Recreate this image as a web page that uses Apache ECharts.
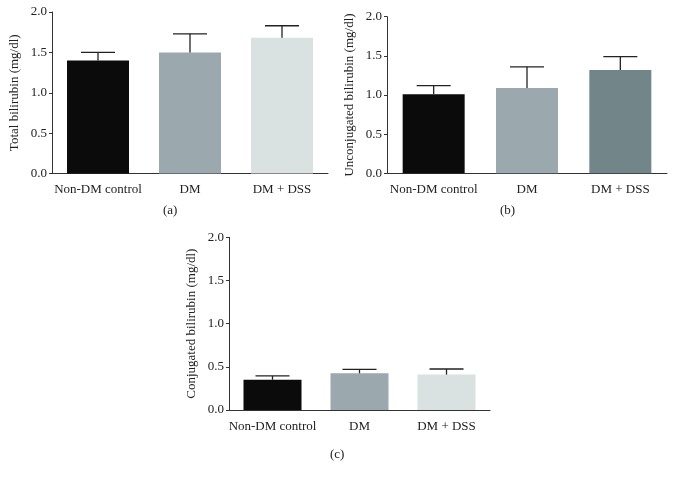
<!DOCTYPE html>
<html>
<head>
<meta charset="utf-8">
<script src="https://cdn.jsdelivr.net/npm/echarts@6/dist/echarts.min.js"></script>
<style>html,body{margin:0;padding:0;background:#fff;}#c{width:675px;height:479px;}</style>
</head>
<body>
<div id="c"></div>
<script>
const categories = ['Non-DM control', 'DM', 'DM + DSS'];
const yTicks = [0, 0.5, 1.0, 1.5, 2.0];
const totalMean = [1.40, 1.50, 1.68];
const totalUpper = [1.50, 1.73, 1.83];
const unconjMean = [1.01, 1.09, 1.32];
const unconjUpper = [1.12, 1.36, 1.49];
const conjMean = [0.35, 0.425, 0.41];
const conjUpper = [0.395, 0.47, 0.475];
const colorsA = ['#0b0b0b', '#9ba8ae', '#d9e1e1'];
const colorsB = ['#0b0b0b', '#9ba9ae', '#72868a'];
const colorsC = ['#0b0b0b', '#9ba8ae', '#d9e1e1'];
const names = ['Total bilirubin (mg/dl)', 'Unconjugated bilirubin (mg/dl)', 'Conjugated bilirubin (mg/dl)'];
const captions = ['(a)', '(b)', '(c)'];

const FONT = 'Liberation Serif';
const AX = '#333';
const grids = [
  {left: 52, top: 12, width: 276, height: 161.5},
  {left: 387, top: 16.7, width: 280, height: 156.6},
  {left: 229, top: 237.3, width: 261, height: 172.7}
];
const barWidths = [62, 62, 58];

function xAxis(i) {
  return {
    type: 'category', gridIndex: i, data: categories,
    axisLine: {lineStyle: {color: AX, width: 1}},
    axisTick: {alignWithLabel: true, length: 3, lineStyle: {color: AX}},
    axisLabel: {interval: 0, hideOverlap: false, color: '#222', fontFamily: FONT, fontSize: 13, margin: 10}
  };
}
function yAxis(i) {
  return {
    type: 'value', gridIndex: i, min: yTicks[0], max: yTicks[yTicks.length - 1], interval: 0.5,
    name: names[i], nameLocation: 'middle', nameGap: 31,
    nameTextStyle: {color: '#222', fontFamily: FONT, fontSize: 13},
    axisLine: {show: true, lineStyle: {color: AX, width: 1}},
    axisTick: {show: true, length: 3, lineStyle: {color: AX}},
    splitLine: {show: false},
    axisLabel: {color: '#222', fontFamily: FONT, fontSize: 13, margin: 5,
      formatter: v => v.toFixed(1)}
  };
}
function barSeries(i, means, colors) {
  return {
    type: 'bar', xAxisIndex: i, yAxisIndex: i, barWidth: barWidths[i],
    data: means.map((v, k) => ({value: v, itemStyle: {color: colors[k]}})),
    silent: true
  };
}
function errSeries(i, means, uppers) {
  return {
    type: 'custom', xAxisIndex: i, yAxisIndex: i, z: 5, silent: true,
    data: means.map((v, k) => [k, v, uppers[k]]),
    renderItem: function (params, api) {
      const b = api.coord([api.value(0), api.value(1)]);
      const t = api.coord([api.value(0), api.value(2)]);
      const hw = 17;
      return {
        type: 'group',
        children: [
          {type: 'line', shape: {x1: b[0], y1: b[1], x2: t[0], y2: t[1]}, style: {stroke: '#222', lineWidth: 1.3}},
          {type: 'line', shape: {x1: t[0] - hw, y1: t[1], x2: t[0] + hw, y2: t[1]}, style: {stroke: '#222', lineWidth: 1.3}}
        ]
      };
    }
  };
}

const chart = echarts.init(document.getElementById('c'), null, {renderer: 'canvas'});
chart.setOption({
  backgroundColor: '#fff',
  animation: false,
  grid: grids,
  xAxis: [xAxis(0), xAxis(1), xAxis(2)],
  yAxis: [yAxis(0), yAxis(1), yAxis(2)],
  series: [
    barSeries(0, totalMean, colorsA), errSeries(0, totalMean, totalUpper),
    barSeries(1, unconjMean, colorsB), errSeries(1, unconjMean, unconjUpper),
    barSeries(2, conjMean, colorsC), errSeries(2, conjMean, conjUpper)
  ],
  graphic: [
    {type: 'text', left: 163, top: 204, style: {text: captions[0], font: '13px "Liberation Serif"', fill: '#222'}},
    {type: 'text', left: 500, top: 204, style: {text: captions[1], font: '13px "Liberation Serif"', fill: '#222'}},
    {type: 'text', left: 330, top: 448, style: {text: captions[2], font: '13px "Liberation Serif"', fill: '#222'}}
  ]
});
</script>
</body>
</html>
